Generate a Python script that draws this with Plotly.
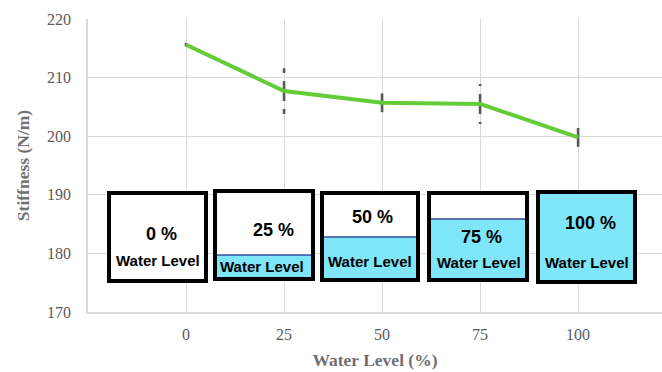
import plotly.graph_objects as go

# Measured stiffness at each water level, with spread of repeated runs
water_level = [0, 25, 50, 75, 100]
stiffness = [215.6, 207.7, 205.7, 205.5, 199.8]
stiffness_err = [0.3, 3.9, 1.6, 3.4, 1.6]

# Labels for the tank illustrations
box_pct_labels = ["0 %", "25 %", "50 %", "75 %", "100 %"]
box_fill_levels = [0, 25, 50, 75, 100]

W, H = 662, 372
L, R, T, B = 88, 0, 19, 60
PW, PH = W - L - R, H - T - B

GRID = "#d9d9d9"
TICK = "#595959"
TITLE = "#707070"
GREEN = "#64cc37"
WATER = "#7fe5f9"
WATER_EDGE = "#2e4a9e"


def px(x):
    return (x - L) / PW


def py(y):
    return 1 - (y - T) / PH


fig = go.Figure()

# Dashed error bars, drawn outward from each point so the dash pattern starts at the mean
ex, ey = [], []
for x, y, e in zip(water_level, stiffness, stiffness_err):
    ex += [x, x, None, x, x, None]
    ey += [y, y + e, None, y, y - e, None]
fig.add_trace(go.Scatter(
    x=ex, y=ey, mode="lines", hoverinfo="skip",
    line=dict(color=TICK, width=2.6, dash="10px,8px"),
    connectgaps=False, showlegend=False,
))

fig.add_trace(go.Scatter(
    x=water_level, y=stiffness, mode="lines",
    line=dict(color=GREEN, width=4),
    showlegend=False,
))

# Tank illustrations: outer box (pixels), water surface and text placement
boxes = [
    dict(x0=109, x1=206, y0=193, y1=281, pct=(161, 234), lbl=(158, 260)),
    dict(x0=215, x1=313, y0=191, y1=279, pct=(273, 230), lbl=(262, 266)),
    dict(x0=322, x1=418, y0=193, y1=280, pct=(372, 217), lbl=(370, 261)),
    dict(x0=429, x1=527, y0=193, y1=280, pct=(481, 237), lbl=(479, 262)),
    dict(x0=538, x1=635, y0=192, y1=282, pct=(590, 223), lbl=(587, 262)),
]
water_tops = [None, 255, 237, 219, 192]

shapes = []
annotations = []
for b, top, pct, lvl in zip(boxes, water_tops, box_pct_labels, box_fill_levels):
    shapes.append(dict(type="rect", xref="paper", yref="paper",
                       x0=px(b["x0"]), x1=px(b["x1"]), y0=py(b["y1"]), y1=py(b["y0"]),
                       fillcolor="white", line=dict(width=0)))
    if top is not None:
        shapes.append(dict(type="rect", xref="paper", yref="paper",
                           x0=px(b["x0"]), x1=px(b["x1"]), y0=py(b["y1"]), y1=py(top),
                           fillcolor=WATER, line=dict(width=0)))
        if lvl < 100:
            shapes.append(dict(type="line", xref="paper", yref="paper",
                               x0=px(b["x0"]), x1=px(b["x1"]), y0=py(top), y1=py(top),
                               line=dict(color=WATER_EDGE, width=1.5)))
    shapes.append(dict(type="rect", xref="paper", yref="paper",
                       x0=px(b["x0"]), x1=px(b["x1"]), y0=py(b["y1"]), y1=py(b["y0"]),
                       fillcolor="rgba(0,0,0,0)", line=dict(color="black", width=4)))
    annotations.append(dict(xref="paper", yref="paper", x=px(b["pct"][0]), y=py(b["pct"][1]),
                            text="<b>" + pct + "</b>", showarrow=False,
                            xanchor="center", yanchor="middle",
                            font=dict(family="Liberation Sans", size=18, color="black")))
    annotations.append(dict(xref="paper", yref="paper", x=px(b["lbl"][0]), y=py(b["lbl"][1]),
                            text="<b>Water Level</b>", showarrow=False,
                            xanchor="center", yanchor="middle",
                            font=dict(family="Liberation Sans", size=15, color="black")))

fig.update_layout(
    width=W, height=H,
    margin=dict(l=L, r=R, t=T, b=B),
    paper_bgcolor="white", plot_bgcolor="white",
    shapes=shapes, annotations=annotations,
    xaxis=dict(
        range=[-25, 121.4], tickvals=water_level, ticktext=[str(v) for v in water_level],
        showgrid=True, gridcolor=GRID, gridwidth=1, zeroline=False,
        showline=True, linecolor=GRID, linewidth=1.5,
        ticks="", ticklabelstandoff=7,
        tickfont=dict(family="Liberation Serif", size=16, color=TICK),
        title=dict(text="<b>Water Level (%)</b>", standoff=12,
                   font=dict(family="Liberation Serif", size=17.5, color=TITLE)),
    ),
    yaxis=dict(
        range=[170, 220], tickvals=[170, 180, 190, 200, 210, 220],
        showgrid=True, gridcolor=GRID, gridwidth=1, zeroline=False,
        showline=True, linecolor=GRID, linewidth=1.5,
        ticks="", ticklabelstandoff=12,
        tickfont=dict(family="Liberation Serif", size=16, color=TICK),
        title=dict(text="<b>Stiffness (N/m)</b>", standoff=13,
                   font=dict(family="Liberation Serif", size=17.5, color=TITLE)),
    ),
)

fig.write_html("out.html")
